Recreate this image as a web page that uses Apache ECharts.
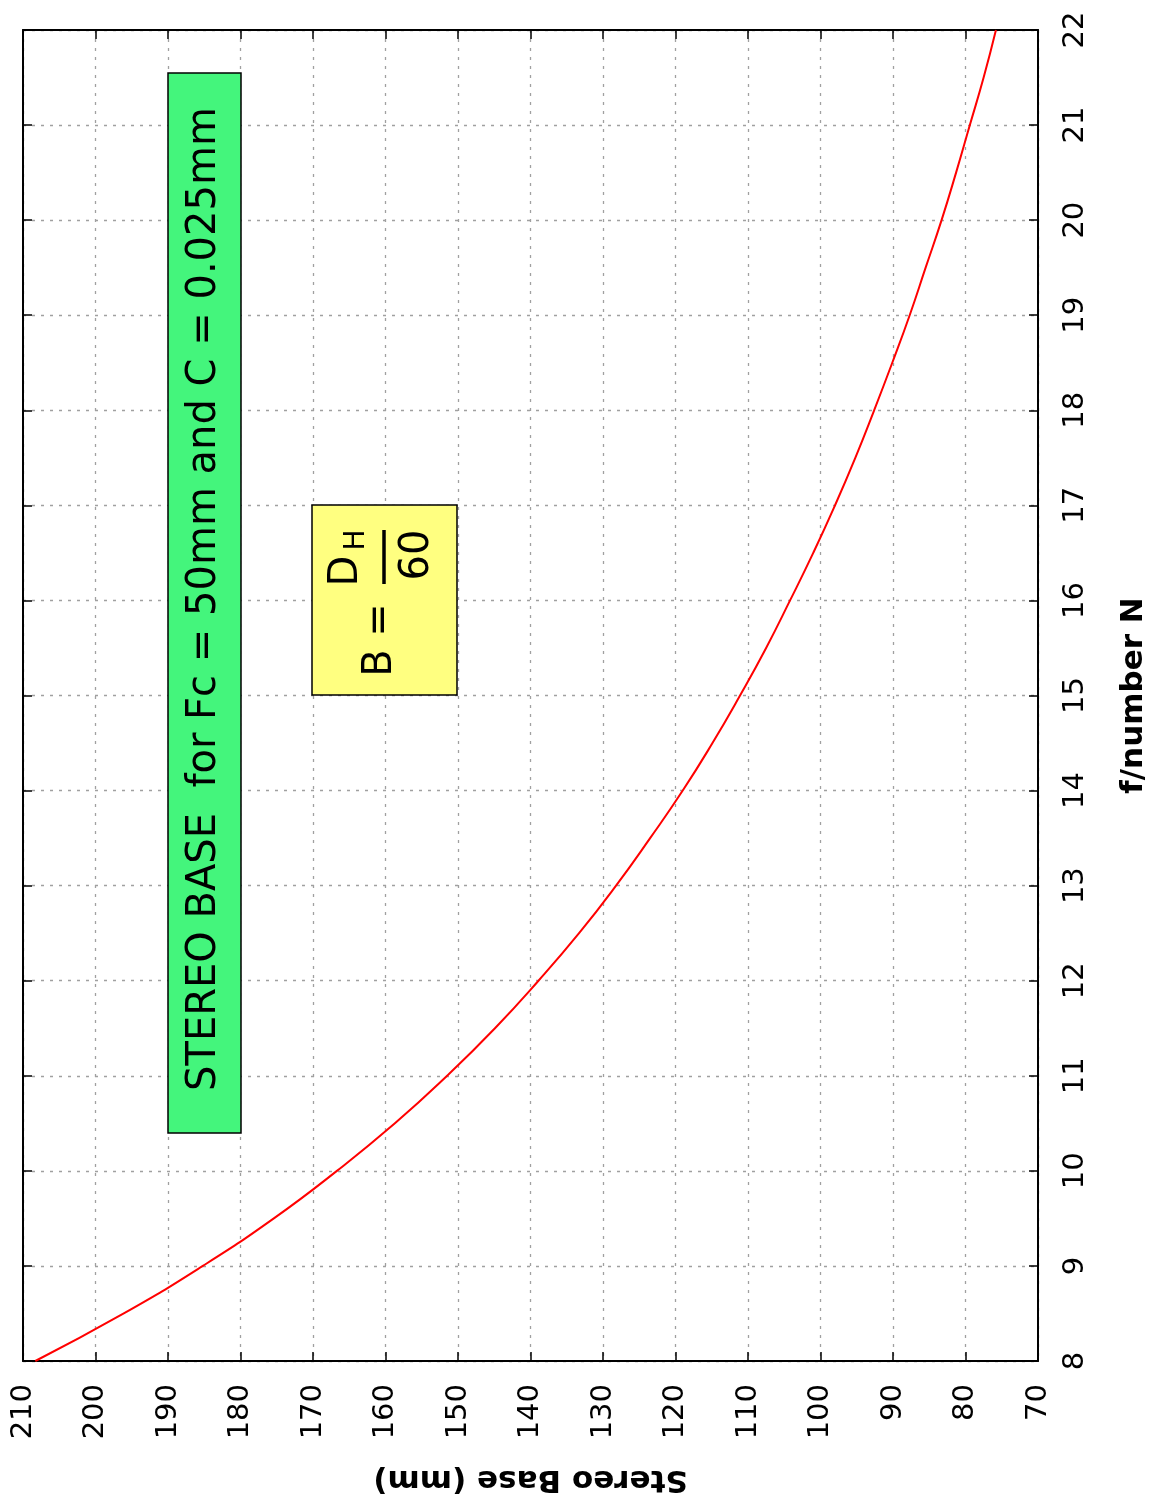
<!DOCTYPE html>
<html>
<head>
<meta charset="utf-8">
<script src="https://cdn.jsdelivr.net/npm/echarts@6/dist/echarts.min.js"></script>
<style>
  html, body { margin: 0; padding: 0; background: #fff; }
  #chart { width: 1159px; height: 1500px; }
</style>
</head>
<body>
<div id="chart"></div>
<script>
  // f/number N (vertical axis, on the right) and stereo base in mm (horizontal, reversed)
  const fNumber = [8, 8.5, 9, 9.5, 10, 10.5, 11, 11.5, 12, 12.5, 13, 13.5, 14, 14.5, 15,
    15.5, 16, 16.5, 17, 17.5, 18, 18.5, 19, 19.5, 20, 20.5, 21, 21.5, 22];
  const stereoBase = [208.3, 196.1, 185.2, 175.4, 166.7, 158.7, 151.5, 144.9, 138.9, 133.3, 128.2,
    123.5, 119.0, 114.9, 111.1, 107.5, 104.2, 101.0, 98.0, 95.2, 92.6, 90.1, 87.7, 85.5,
    83.3, 81.3, 79.4, 77.5, 75.8];
  const baseTicks = { min: 70, max: 210, interval: 10 };
  const fTicks = { min: 8, max: 22, interval: 1 };
  const titleText = 'STEREO BASE  for Fc = 50mm and C = 0.025mm';

  const font = 'DejaVu Sans';
  const chart = echarts.init(document.getElementById('chart'));

  const gridLine = { show: true, lineStyle: { color: '#a0a0a0', width: 1.3, type: [3, 6] } };
  const axisLine = { show: true, onZero: false, lineStyle: { color: '#000', width: 2 } };
  const tick = { show: true, inside: true, length: 9, lineStyle: { color: '#000', width: 1.5 } };

  const option = {
    backgroundColor: '#fff',
    animation: false,
    grid: { left: 23, right: 121, top: 30, bottom: 138 },
    xAxis: [
      {
        type: 'value',
        inverse: true,
        position: 'bottom',
        min: baseTicks.min, max: baseTicks.max, interval: baseTicks.interval,
        name: 'Stereo Base (mm)',
        nameLocation: 'middle',
        nameGap: 103,
        nameRotate: 180,
        nameTextStyle: { fontFamily: font, fontSize: 31, fontWeight: 'bold', color: '#000' },
        axisLine: axisLine,
        axisTick: tick,
        splitLine: gridLine,
        axisLabel: {
          rotate: 90, margin: 23, align: 'right', verticalAlign: 'middle',
          fontFamily: font, fontSize: 29, color: '#000'
        }
      },
      {
        type: 'value',
        inverse: true,
        position: 'top',
        min: baseTicks.min, max: baseTicks.max, interval: baseTicks.interval,
        axisLine: axisLine,
        axisTick: tick,
        axisLabel: { show: false },
        splitLine: { show: false }
      }
    ],
    yAxis: [
      {
        type: 'value',
        position: 'right',
        min: fTicks.min, max: fTicks.max, interval: fTicks.interval,
        name: 'f/number N',
        nameLocation: 'middle',
        nameGap: 80,
        nameRotate: 90,
        nameTextStyle: { fontFamily: font, fontSize: 31, fontWeight: 'bold', color: '#000' },
        axisLine: axisLine,
        axisTick: tick,
        splitLine: gridLine,
        axisLabel: {
          rotate: 90, margin: 23, align: 'center', verticalAlign: 'top',
          fontFamily: font, fontSize: 29, color: '#000'
        }
      },
      {
        type: 'value',
        position: 'left',
        min: fTicks.min, max: fTicks.max, interval: fTicks.interval,
        axisLine: axisLine,
        axisTick: tick,
        axisLabel: { show: false },
        splitLine: { show: false }
      }
    ],
    series: [
      {
        name: 'Stereo Base',
        type: 'line',
        smooth: true,
        showSymbol: false,
        lineStyle: { color: '#ff0000', width: 2 },
        data: fNumber.map((n, i) => [stereoBase[i], n])
      }
    ],
    graphic: [
      // green title box
      {
        type: 'rect', z: 100,
        shape: { x: 168, y: 73, width: 73, height: 1060 },
        style: { fill: '#44f57c', stroke: '#000', lineWidth: 1.5 }
      },
      {
        type: 'text', z: 101, x: 205, y: 599, rotation: Math.PI / 2,
        style: { text: titleText, fontFamily: font, fontSize: 40, fill: '#000', align: 'center', verticalAlign: 'middle' }
      },
      // yellow formula box
      {
        type: 'rect', z: 100,
        shape: { x: 312, y: 505, width: 145, height: 190 },
        style: { fill: '#ffff80', stroke: '#000', lineWidth: 1.5 }
      },
      {
        type: 'text', z: 101, x: 381, y: 640, rotation: Math.PI / 2,
        style: { text: 'B =', fontFamily: font, fontSize: 40, fill: '#000', align: 'center', verticalAlign: 'middle' }
      },
      {
        type: 'text', z: 101, x: 347, y: 571, rotation: Math.PI / 2,
        style: { text: 'D', fontFamily: font, fontSize: 40, fill: '#000', align: 'center', verticalAlign: 'middle' }
      },
      {
        type: 'text', z: 101, x: 357, y: 540, rotation: Math.PI / 2,
        style: { text: 'H', fontFamily: font, fontSize: 28, fill: '#000', align: 'center', verticalAlign: 'middle' }
      },
      {
        type: 'line', z: 101,
        shape: { x1: 384, y1: 530, x2: 384, y2: 584 },
        style: { stroke: '#000', lineWidth: 3.5 }
      },
      {
        type: 'text', z: 101, x: 418, y: 555, rotation: Math.PI / 2,
        style: { text: '60', fontFamily: font, fontSize: 40, fill: '#000', align: 'center', verticalAlign: 'middle' }
      }
    ]
  };

  chart.setOption(option);
</script>
</body>
</html>
